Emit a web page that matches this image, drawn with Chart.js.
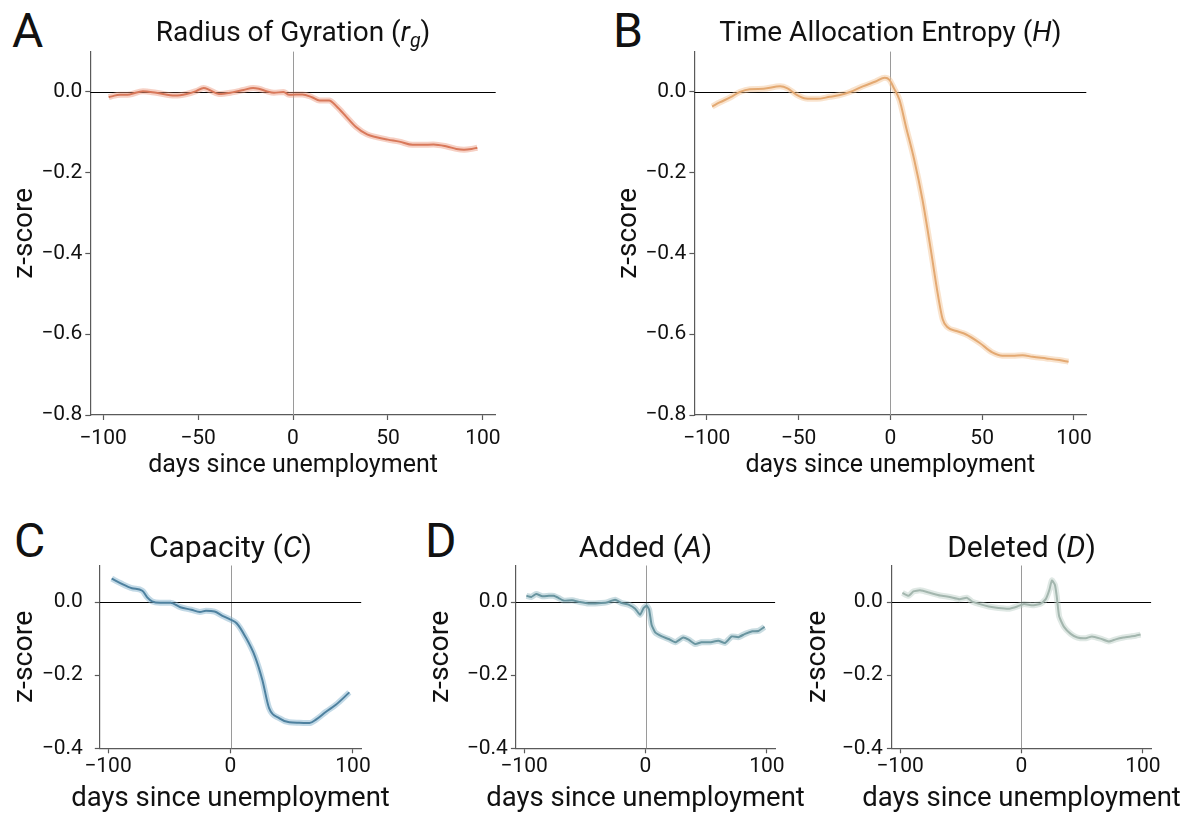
<!DOCTYPE html>
<html>
<head>
<meta charset="utf-8">
<script src="https://cdn.jsdelivr.net/npm/chart.js@4.4.1/dist/chart.umd.min.js"></script>
<style>
    body { margin: 0; background: #fff; width: 1200px; height: 822px; position: relative; overflow: hidden; font-family: Roboto, sans-serif; color: #111; }
    canvas { position: absolute; }
    .letter { position: absolute; font-size: 48px; line-height: 48px; }
    .ttl { position: absolute; text-align: center; white-space: nowrap; }
    .ttl sub { font-size: 0.7em; vertical-align: -0.3em; line-height: 0; }
</style>
</head>
<body>

<div class="letter" style="left:12px;top:6.6px">A</div>
<div class="letter" style="left:613px;top:6.6px">B</div>
<div class="letter" style="left:14px;top:516.6px">C</div>
<div class="letter" style="left:425px;top:516.6px">D</div>

<canvas id="cA"></canvas>
<canvas id="cB"></canvas>
<canvas id="cC"></canvas>
<canvas id="cAdd"></canvas>
<canvas id="cDel"></canvas>

<script>
// -------------------------    Data    -------------------------

// tick labels
var daysTicksWide = [-100, -50, 0, 50, 100];
var daysTicksNarrow = [-100, 0, 100];
var zTicksTall = [-0.8, -0.6, -0.4, -0.2, 0.0];
var zTicksShort = [-0.4, -0.2, 0.0];

// A: radius of gyration
var rgDays = [-97, -94, -91, -86, -79, -72, -62, -56, -51, -47, -44, -39, -32, -26, -21, -18, -14, -10, -5, -2, 5, 10, 14, 19, 23, 28, 33, 39, 44, 50, 56, 63, 68, 74, 81, 86, 90, 94, 97];
var rgZ = [-0.013, -0.009, -0.007, -0.006, 0.002, -0.002, -0.009, -0.005, 0.002, 0.010, 0.005, -0.005, -0.001, 0.005, 0.010, 0.008, 0.002, -0.002, 0.000, -0.007, -0.006, -0.013, -0.021, -0.021, -0.036, -0.061, -0.086, -0.105, -0.112, -0.118, -0.123, -0.131, -0.131, -0.130, -0.135, -0.141, -0.143, -0.141, -0.138];

// B: time allocation entropy
var entDays = [-97, -93, -87, -82, -76.5, -69, -60, -56, -51, -46, -40, -33, -28, -22, -15, -8, -3, -0.5, 2, 5, 8.5, 13, 17.5, 22, 26, 28.5, 31, 36, 41, 48.5, 55.5, 61, 66.5, 72, 77.5, 85, 92, 97];
var entZ = [-0.036, -0.026, -0.013, 0.000, 0.007, 0.008, 0.014, 0.009, -0.007, -0.016, -0.017, -0.012, -0.008, 0.000, 0.014, 0.026, 0.035, 0.030, 0.009, -0.020, -0.086, -0.168, -0.267, -0.390, -0.505, -0.563, -0.582, -0.592, -0.600, -0.621, -0.645, -0.653, -0.653, -0.652, -0.656, -0.660, -0.664, -0.668];

// C: capacity
var capDays = [-97, -90, -80.5, -72, -68, -64, -57.5, -49, -41, -32, -25, -20, -13, -7, 0, 5, 12, 20, 26, 31.5, 40, 48, 56, 64.5, 70, 78, 86, 97];
var capZ = [0.064, 0.052, 0.038, 0.031, 0.013, 0.002, -0.002, -0.002, -0.014, -0.021, -0.027, -0.024, -0.026, -0.037, -0.048, -0.058, -0.094, -0.149, -0.213, -0.290, -0.318, -0.329, -0.330, -0.331, -0.321, -0.300, -0.281, -0.247];

// D: added
var addDays = [-98, -94, -90, -85, -79.5, -75.5, -71.5, -67.5, -60.5, -54, -47, -39, -32, -25, -19.5, -14, -8.5, -4.5, -1.5, 1, 3, 5, 8, 13.5, 19, 24.5, 31, 35.5, 41, 46, 53, 60, 65.5, 71, 76.5, 82, 88, 93, 98];
var addZ = [0.017, 0.014, 0.022, 0.016, 0.017, 0.017, 0.011, 0.004, 0.005, 0.000, -0.004, -0.003, -0.001, 0.006, -0.003, -0.007, -0.018, -0.035, -0.016, -0.010, -0.021, -0.062, -0.083, -0.094, -0.101, -0.110, -0.097, -0.103, -0.115, -0.110, -0.110, -0.106, -0.112, -0.094, -0.096, -0.087, -0.080, -0.079, -0.068];

// D: deleted
var delDays = [-98, -93, -89, -83.5, -75, -67, -59, -51, -45, -41, -35, -27, -19, -10, -3.5, 2, 9, 15.5, 20, 23, 25, 27.5, 29, 31, 35, 40.5, 46, 53, 58, 65, 72, 77.5, 84, 90, 94, 98];
var delZ = [0.025, 0.017, 0.029, 0.032, 0.025, 0.018, 0.014, 0.008, 0.012, 0.002, -0.005, -0.012, -0.016, -0.018, -0.012, -0.005, -0.009, -0.005, 0.008, 0.034, 0.059, 0.047, 0.016, -0.039, -0.068, -0.087, -0.097, -0.099, -0.094, -0.100, -0.108, -0.102, -0.097, -0.094, -0.092, -0.089];


// -------------------------    Panel setup    -------------------------

var FONT = 'Roboto, sans-serif';
var SPINE = '#5a5a5a';

var panels = [
    { id: 'cA', title: 'Radius of Gyration (<i>r<sub>g</sub></i>)', days: rgDays, z: rgZ,
      color: '#c8603f', band: 'rgba(236,150,125,0.45)', smooth: true,
      xTicks: daysTicksWide, yTicks: zTicksTall, yMin: -0.8,
      box: { x: 0, y: 30, w: 540, h: 460 }, area: { l: 90.3, t: 51.6, r: 495.7, b: 415 },
      yTitleX: 25, xTitleY: 466, yPad: 3, xPad: 6, titleSize: 28, titleBase: 42, axisSize: 25, yAxisSize: 28 },
    { id: 'cB', title: 'Time Allocation Entropy (<i>H</i>)', days: entDays, z: entZ,
      color: '#d8955a', band: 'rgba(242,192,145,0.45)', smooth: true,
      xTicks: daysTicksWide, yTicks: zTicksTall, yMin: -0.8,
      box: { x: 600, y: 30, w: 600, h: 460 }, area: { l: 694.4, t: 51.6, r: 1086.3, b: 415 },
      yTitleX: 629, xTitleY: 466, yPad: 3, xPad: 6, titleSize: 28, titleBase: 42, axisSize: 25, yAxisSize: 28 },
    { id: 'cC', title: 'Capacity (<i>C</i>)', days: capDays, z: capZ,
      color: '#2d5f7e', band: 'rgba(120,170,200,0.45)', smooth: true,
      xTicks: daysTicksNarrow, yTicks: zTicksShort, yMin: -0.4,
      box: { x: 0, y: 520, w: 400, h: 302 }, area: { l: 99.8, t: 565.5, r: 361.2, b: 748.3 },
      yTitleX: 25, xTitleY: 799, yPad: 12, xPad: 1, titleSize: 30, titleBase: 557, axisSize: 27.5, yAxisSize: 28.5 },
    { id: 'cAdd', title: 'Added (<i>A</i>)', days: addDays, z: addZ,
      color: '#4f7c87', band: 'rgba(135,178,188,0.45)', smooth: false,
      xTicks: daysTicksNarrow, yTicks: zTicksShort, yMin: -0.4,
      box: { x: 400, y: 520, w: 430, h: 302 }, area: { l: 515.9, t: 565.5, r: 775.1, b: 748.3 },
      yTitleX: 441, xTitleY: 799, yPad: 3, xPad: 1, titleSize: 30, titleBase: 557, axisSize: 27.5, yAxisSize: 28.5 },
    { id: 'cDel', title: 'Deleted (<i>D</i>)', days: delDays, z: delZ,
      color: '#93a59d', band: 'rgba(185,205,195,0.45)', smooth: false,
      xTicks: daysTicksNarrow, yTicks: zTicksShort, yMin: -0.4,
      box: { x: 800, y: 520, w: 400, h: 302 }, area: { l: 891.9, t: 565.5, r: 1151.1, b: 748.3 },
      yTitleX: 818, xTitleY: 799, yPad: 4, xPad: 1, titleSize: 30, titleBase: 557, axisSize: 27.5, yAxisSize: 28.5 },
];


// -------------------------    helperfunctions    -------------------------

function fmtZ(v) {
    return (v < -1e-9 ? '\u2212' : '') + Math.abs(v).toFixed(1);
}

function fmtDay(v) {
    return (v < 0 ? '\u2212' : '') + Math.abs(v);
}

// zero reference lines, drawn under the curves
var zeroLines = {
    id: 'zeroLines',
    beforeDatasetsDraw(chart) {
        const ctx = chart.ctx;
        const a = chart.chartArea;
        const px = Math.round(chart.scales.x.getPixelForValue(0)) + 0.5;
        const py = Math.round(chart.scales.y.getPixelForValue(0)) + 0.5;
        ctx.save();
        ctx.lineWidth = 1;
        ctx.strokeStyle = '#9a9a9a';
        ctx.beginPath(); ctx.moveTo(px, a.top); ctx.lineTo(px, a.bottom); ctx.stroke();
        ctx.strokeStyle = '#000';
        ctx.beginPath(); ctx.moveTo(a.left, py); ctx.lineTo(a.right, py); ctx.stroke();
        ctx.restore();
    }
};

// x axis title without the width squeeze of the built-in one
var xTitle = {
    id: 'xTitle',
    afterDraw(chart, args, opts) {
        const s = chart.scales.x;
        const ctx = chart.ctx;
        ctx.save();
        ctx.font = opts.size + 'px ' + FONT;
        ctx.fillStyle = '#111';
        ctx.textAlign = 'center';
        ctx.textBaseline = 'middle';
        ctx.fillText(opts.text, (s.left + s.right) / 2, opts.y);
        ctx.restore();
    }
};


// -------------------------    Charts    -------------------------

panels.forEach(function (p) {
    const cv = document.getElementById(p.id);
    cv.width = p.box.w;
    cv.height = p.box.h;
    cv.style.left = p.box.x + 'px';
    cv.style.top = p.box.y + 'px';

    // title as html text
    const t = document.createElement('div');
    t.className = 'ttl';
    t.innerHTML = p.title;
    t.style.left = p.area.l + 'px';
    t.style.width = (p.area.r - p.area.l) + 'px';
    t.style.fontSize = p.titleSize + 'px';
    t.style.lineHeight = p.titleSize + 'px';
    t.style.top = (p.titleBase - p.titleSize * 0.843) + 'px';
    document.body.appendChild(t);

    const yW = p.area.l - p.box.x;
    const xH = p.box.y + p.box.h - p.area.b;
    const yLH = p.yAxisSize * 1.2;
    const pts = p.days.map((d, i) => ({ x: d, y: p.z[i] }));

    const lineStyle = p.smooth ? { cubicInterpolationMode: 'monotone' } : { tension: 0.15 };

    new Chart(cv, {
        type: 'line',
        data: {
            datasets: [
                Object.assign({ data: pts, borderColor: p.band, borderWidth: 6, pointRadius: 0 }, lineStyle),
                Object.assign({ data: pts, borderColor: p.color, borderWidth: 2, pointRadius: 0 }, lineStyle),
            ]
        },
        options: {
            responsive: false,
            animation: false,
            events: [],
            layout: { padding: { left: 0, top: p.area.t - p.box.y, right: p.box.x + p.box.w - p.area.r, bottom: 0 } },
            plugins: {
                legend: { display: false },
                tooltip: { enabled: false },
                xTitle: { text: 'days since unemployment', size: p.axisSize, y: p.xTitleY - p.box.y }
            },
            scales: {
                x: {
                    type: 'linear', min: -106.7, max: 106.7,
                    afterFit: s => { s.height = xH; },
                    afterBuildTicks: s => { s.ticks = p.xTicks.map(v => ({ value: v })); },
                    ticks: { font: { family: FONT, size: 21 }, color: '#111', padding: p.xPad, maxRotation: 0, autoSkip: false, callback: fmtDay },
                    grid: { display: true, drawOnChartArea: false, drawTicks: true, tickLength: 5, tickWidth: 1.2, color: SPINE },
                    border: { display: true, color: SPINE, width: 1.2 }
                },
                y: {
                    min: p.yMin, max: 0.1,
                    afterFit: s => { s.width = yW; },
                    afterBuildTicks: s => { s.ticks = p.yTicks.map(v => ({ value: v })); },
                    ticks: { font: { family: FONT, size: 21 }, color: '#111', padding: p.yPad, autoSkip: false, callback: fmtZ },
                    grid: { display: true, drawOnChartArea: false, drawTicks: true, tickLength: 5, tickWidth: 1.2, color: SPINE },
                    border: { display: true, color: SPINE, width: 1.2 },
                    title: { display: true, text: 'z-score', color: '#111',
                        font: { family: FONT, size: p.yAxisSize, lineHeight: 1.2 },
                        padding: { top: p.yTitleX - p.box.x - yLH / 2, bottom: 0 } }
                }
            }
        },
        plugins: [zeroLines, xTitle]
    });
});
</script>
</body>
</html>
